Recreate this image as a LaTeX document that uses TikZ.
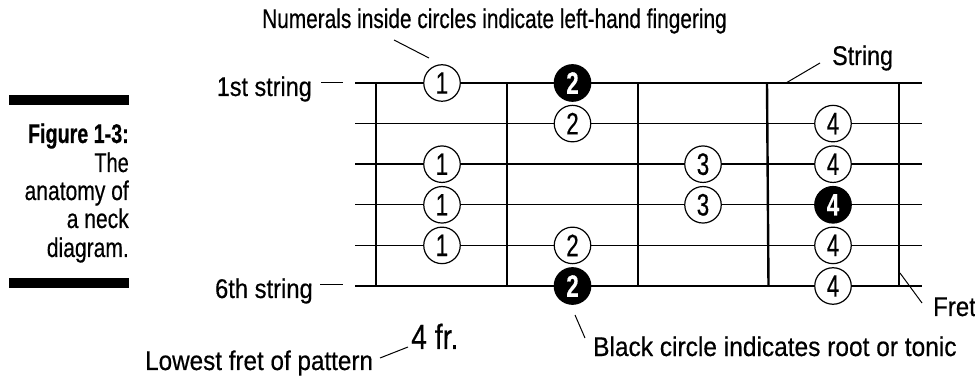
\documentclass[tikz,border=0pt]{standalone}
\usepackage{fontspec}
\setmainfont{Liberation Sans}[FakeBold=0.5]
\usepackage{graphicx}
\newcommand{\sqz}[2]{\scalebox{#1}[1]{#2}}
\begin{document}
\begin{tikzpicture}[x=1pt,y=-1pt,
  stringline/.style={line width=1.4pt},
  fretline/.style={line width=2.4pt},
  finger/.style={circle, draw, fill=white, line width=1.2pt, minimum size=36.5pt, inner sep=0pt, font=\fontsize{31}{31}\selectfont},
  root/.style={finger, fill=black, text=white, font=\fontsize{31}{31}\selectfont\bfseries},
  lbl/.style={inner sep=0pt, font=\fontsize{27}{30}\selectfont},
  leader/.style={line width=1pt},
  bar/.style={fill=black}]
\useasboundingbox (0,0) rectangle (975,379);

% caption
\fill[bar] (9,95) rectangle (129,105);
\fill[bar] (9,278) rectangle (129,288);
\node[lbl, anchor=base east, font=\fontsize{27}{30}\selectfont\bfseries] (cap1) at (129,143) {\sqz{0.73}{Figure 1-3:}};
\node[lbl, anchor=base east] (cap2) at (129,172) {\sqz{0.74}{The}};
\node[lbl, anchor=base east] (cap3) at (129,200) {\sqz{0.78}{anatomy of}};
\node[lbl, anchor=base east] (cap4) at (129,228) {\sqz{0.78}{a neck}};
\node[lbl, anchor=base east] (cap5) at (129,257) {\sqz{0.78}{diagram.}};

% strings
\foreach \y in {83,123.6,164.2,204.8,245.4,286}
  \draw[stringline] (355,\y) -- (922,\y);
% frets
\draw[fretline] (376,83) -- (376,286);
\draw[fretline] (507,83) -- (507,286);
\draw[fretline] (638,83) -- (638,286);
\draw[fretline] (767,83) -- (768.5,286);
\draw[fretline] (899,83) -- (899,286);

% fingering circles
\node[finger] (a1) at (442,83) {\sqz{0.72}{1}};
\node[root]   (b1) at (572.5,83) {\sqz{0.72}{2}};
\node[finger] (b2) at (572.5,123.6) {\sqz{0.72}{2}};
\node[finger] (d2) at (833,123.6) {\sqz{0.72}{4}};
\node[finger] (a3) at (442,164.2) {\sqz{0.72}{1}};
\node[finger] (c3) at (703,164.2) {\sqz{0.72}{3}};
\node[finger] (d3) at (833,164.2) {\sqz{0.72}{4}};
\node[finger] (a4) at (442,204.8) {\sqz{0.72}{1}};
\node[finger] (c4) at (703,204.8) {\sqz{0.72}{3}};
\node[root]   (d4) at (833,204.8) {\sqz{0.72}{4}};
\node[finger] (a5) at (442,245.4) {\sqz{0.72}{1}};
\node[finger] (b5) at (572.5,245.4) {\sqz{0.72}{2}};
\node[finger] (d5) at (833,245.4) {\sqz{0.72}{4}};
\node[root]   (b6) at (572.5,286) {\sqz{0.72}{2}};
\node[finger] (d6) at (833,286) {\sqz{0.72}{4}};

% labels
\node[lbl, anchor=base west] (num) at (262,28) {\sqz{0.772}{Numerals inside circles indicate left-hand fingering}};
\node[lbl, anchor=base east] (first) at (312,96) {\sqz{0.867}{1st string}};
\node[lbl, anchor=base east] (sixth) at (313,298) {\sqz{0.88}{6th string}};
\node[lbl, anchor=base west] (strlbl) at (832,65) {\sqz{0.862}{String}};
\node[lbl, anchor=base west] (fretlbl) at (933,316) {\sqz{0.889}{Fret}};
\node[lbl, anchor=base west, font=\fontsize{35}{38}\selectfont] (fr) at (411,349) {\sqz{0.81}{4 fr.}};
\node[lbl, anchor=base west] (lowest) at (145,370) {\sqz{0.898}{Lowest fret of pattern}};
\node[lbl, anchor=base west] (black) at (593,356) {\sqz{0.907}{Black circle indicates root or tonic}};

% leader lines
\coordinate (n1) at (394,40); \coordinate (n2) at (429,58);
\draw[leader] (n1) -- (n2);
\coordinate (s1) at (820,63); \coordinate (s2) at (786,83);
\draw[leader] (s1) -- (s2);
\coordinate (f1) at (900,273); \coordinate (f2) at (922,303);
\draw[leader] (f1) -- (f2);
\coordinate (l1) at (380,358); \coordinate (l2) at (408,347);
\draw[leader] (l1) -- (l2);
\coordinate (k1) at (575,315); \coordinate (k2) at (585,338);
\draw[leader] (k1) -- (k2);
\coordinate (d1a) at (321,83); \coordinate (d1b) at (343,83);
\draw[leader] (d1a) -- (d1b);
\coordinate (d6a) at (320,285); \coordinate (d6b) at (343,285);
\draw[leader] (d6a) -- (d6b);
\end{tikzpicture}
\end{document}
